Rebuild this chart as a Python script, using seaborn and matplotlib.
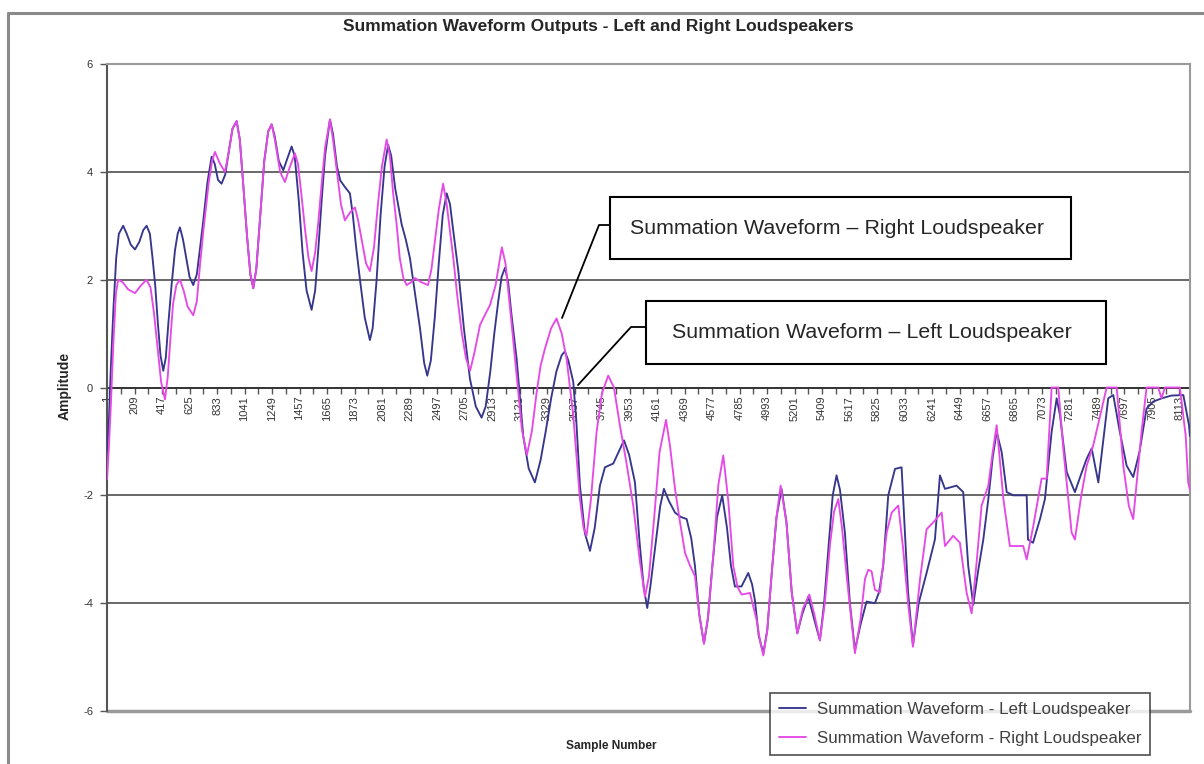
import numpy as np
import pandas as pd
import seaborn as sns
import matplotlib.pyplot as plt
from matplotlib.patches import Rectangle
from matplotlib.lines import Line2D

# values (sample number, amplitude)
left_x = [1, 15, 30, 50, 70, 90, 123, 150, 180, 212, 245, 275, 300, 325, 345, 365, 385, 405, 426, 445,
          465, 489, 515, 535, 552, 575, 600, 625, 653, 680, 705, 729, 760, 792, 815, 840, 867, 895, 920, 950,
          981, 1005, 1030, 1060, 1085, 1107, 1130, 1160, 1190, 1220, 1246, 1270, 1300, 1334, 1365, 1397, 1420, 1450, 1480, 1510,
          1548, 1575, 1600, 1625, 1650, 1687, 1710, 1740, 1765, 1800, 1838, 1860, 1885, 1914, 1950, 1989, 2010, 2040, 2070, 2100,
          2127, 2150, 2180, 2229, 2260, 2292, 2330, 2368, 2400, 2423, 2450, 2480, 2510, 2540, 2570, 2595, 2620, 2658, 2700, 2746,
          2790, 2834, 2865, 2900, 2930, 2960, 2985, 3011, 3035, 3060, 3099, 3149, 3190, 3237, 3280, 3320, 3360, 3400, 3440, 3464,
          3490, 3527, 3550, 3578, 3615, 3654, 3690, 3729, 3767, 3830, 3870, 3911, 3950, 3994, 4030, 4060, 4087, 4110, 4150, 4185,
          4213, 4250, 4297, 4340, 4385, 4420, 4448, 4480, 4516, 4545, 4580, 4615, 4654, 4690, 4720, 4750, 4800, 4851, 4880, 4901,
          4930, 4965, 4995, 5030, 5065, 5103, 5140, 5180, 5222, 5260, 5305, 5350, 5393, 5425, 5460, 5490, 5519, 5545, 5582, 5620,
          5658, 5700, 5746, 5809, 5840, 5872, 5910, 5961, 6011, 6036, 6060, 6097, 6140, 6200, 6263, 6301, 6339, 6427, 6477, 6515,
          6553, 6590, 6629, 6667, 6700, 6730, 6768, 6806, 6856, 6957, 6967, 7005, 7058, 7095, 7146, 7184, 7209, 7260, 7322, 7370,
          7411, 7449, 7499, 7540, 7574, 7612, 7660, 7713, 7763, 7810, 7864, 7915, 7980, 8050, 8142, 8185, 8192]
left_y = [-1.2, -0.6, 0.4, 1.5, 2.4, 2.85, 3.0, 2.85, 2.65, 2.56, 2.7, 2.92, 3.0, 2.85, 2.4, 1.9, 1.2, 0.6, 0.31, 0.55,
          1.2, 1.9, 2.55, 2.85, 2.97, 2.75, 2.4, 2.05, 1.9, 2.1, 2.6, 3.1, 3.8, 4.28, 4.15, 3.85, 3.78, 3.95, 4.35, 4.8,
          4.94, 4.6, 3.8, 2.8, 2.1, 1.84, 2.2, 3.2, 4.2, 4.75, 4.88, 4.65, 4.2, 4.03, 4.25, 4.47, 4.3, 3.5, 2.5, 1.8,
          1.44, 1.8, 2.6, 3.5, 4.3, 4.97, 4.7, 4.1, 3.84, 3.72, 3.6, 3.2, 2.6, 2.0, 1.3, 0.88, 1.1, 2.0, 3.2, 4.1,
          4.5, 4.3, 3.7, 3.03, 2.75, 2.4, 1.75, 1.1, 0.45, 0.22, 0.5, 1.3, 2.3, 3.2, 3.6, 3.4, 2.9, 2.16, 1.1, 0.16,
          -0.35, -0.56, -0.35, 0.3, 1.0, 1.6, 2.05, 2.22, 1.95, 1.35, 0.53, -0.9, -1.5, -1.76, -1.35, -0.8, -0.2, 0.3, 0.6, 0.67,
          0.5, 0.11, -0.6, -1.82, -2.7, -3.03, -2.6, -1.82, -1.48, -1.41, -1.2, -0.98, -1.25, -1.76, -2.9, -3.7, -4.09, -3.7, -2.9, -2.2,
          -1.88, -2.1, -2.32, -2.4, -2.44, -2.8, -3.31, -4.2, -4.75, -4.3, -3.3, -2.4, -2.0, -2.6, -3.3, -3.69, -3.69, -3.44, -3.65, -3.94,
          -4.6, -4.93, -4.5, -3.4, -2.4, -1.88, -2.5, -3.8, -4.56, -4.2, -3.88, -4.3, -4.69, -4.0, -2.9, -2.0, -1.63, -1.9, -2.69, -4.0,
          -4.87, -4.4, -3.97, -4.0, -3.8, -3.31, -2.0, -1.51, -1.48, -2.69, -3.8, -4.78, -4.0, -3.44, -2.82, -1.63, -1.88, -1.82, -1.94, -3.31,
          -4.03, -3.4, -2.82, -2.07, -1.3, -0.82, -1.2, -1.94, -2.0, -2.0, -2.82, -2.88, -2.44, -2.07, -0.82, -0.2, -0.51, -1.57, -1.94, -1.6,
          -1.32, -1.13, -1.76, -0.9, -0.2, -0.14, -0.8, -1.45, -1.66, -1.2, -0.39, -0.26, -0.2, -0.15, -0.14, -0.7, -0.9]

right_x = [1, 15, 30, 50, 68, 85, 120, 160, 212, 260, 300, 330, 355, 380, 410, 439, 460, 480, 500, 525,
           552, 580, 610, 653, 680, 705, 729, 770, 795, 817, 855, 893, 920, 950, 981, 1005, 1030, 1060, 1085, 1107,
           1130, 1160, 1190, 1220, 1246, 1270, 1310, 1346, 1385, 1422, 1445, 1470, 1500, 1525, 1548, 1575, 1600, 1625, 1650, 1687,
           1710, 1740, 1770, 1800, 1840, 1876, 1900, 1930, 1960, 1989, 2020, 2050, 2080, 2116, 2140, 2165, 2191, 2215, 2242, 2267,
           2300, 2330, 2380, 2429, 2455, 2480, 2510, 2543, 2570, 2600, 2620, 2650, 2683, 2715, 2747, 2780, 2822, 2860, 2898, 2940,
           2987, 3015, 3040, 3062, 3100, 3140, 3177, 3215, 3250, 3280, 3313, 3360, 3401, 3440, 3477, 3527, 3578, 3605, 3628, 3660,
           3704, 3745, 3792, 3835, 3880, 3930, 3981, 4030, 4070, 4100, 4140, 4180, 4229, 4260, 4297, 4335, 4373, 4410, 4448, 4480,
           4516, 4550, 4590, 4625, 4662, 4700, 4738, 4770, 4801, 4864, 4914, 4940, 4965, 4995, 5030, 5065, 5096, 5140, 5180, 5222,
           5265, 5313, 5350, 5393, 5430, 5470, 5500, 5532, 5560, 5600, 5658, 5700, 5734, 5759, 5784, 5809, 5847, 5898, 5936, 5986,
           6023, 6060, 6097, 6150, 6200, 6251, 6314, 6339, 6401, 6452, 6503, 6541, 6580, 6616, 6667, 6700, 6730, 6781, 6830, 6931,
           6957, 7007, 7070, 7108, 7146, 7196, 7234, 7297, 7322, 7370, 7411, 7461, 7562, 7638, 7688, 7730, 7763, 7800, 7826, 7864,
           7952, 7977, 8003, 8116, 8160, 8179, 8192]
right_y = [-1.7, -1.1, -0.3, 0.9, 1.75, 2.0, 1.95, 1.82, 1.75, 1.9, 2.0, 1.85, 1.4, 0.8, 0.1, -0.22, 0.2, 0.9, 1.55, 1.9,
           2.0, 1.8, 1.5, 1.34, 1.6, 2.3, 2.9, 3.8, 4.2, 4.37, 4.15, 4.0, 4.35, 4.8, 4.94, 4.6, 3.8, 2.8, 2.1, 1.84,
           2.2, 3.2, 4.2, 4.75, 4.88, 4.6, 4.0, 3.81, 4.1, 4.34, 4.15, 3.6, 2.9, 2.4, 2.16, 2.5, 3.1, 3.8, 4.45, 4.97,
           4.6, 4.0, 3.4, 3.1, 3.25, 3.34, 3.1, 2.7, 2.3, 2.16, 2.6, 3.4, 4.1, 4.6, 4.3, 3.6, 3.03, 2.4, 2.03, 1.9,
           1.95, 2.03, 1.95, 1.9, 2.2, 2.7, 3.3, 3.78, 3.4, 2.8, 2.4, 1.7, 1.03, 0.55, 0.31, 0.65, 1.16, 1.35, 1.53, 1.9,
           2.6, 2.3, 1.7, 1.16, 0.2, -0.8, -1.25, -0.8, -0.1, 0.4, 0.72, 1.1, 1.28, 1.0, 0.53, -0.51, -2.07, -2.6, -2.75, -2.1,
           -0.82, -0.1, 0.22, 0.0, -0.7, -1.4, -2.19, -3.2, -3.88, -3.5, -2.4, -1.2, -0.6, -1.1, -1.88, -2.5, -3.07, -3.3, -3.5, -4.2,
           -4.75, -4.2, -3.0, -1.8, -1.26, -2.1, -3.31, -3.7, -3.84, -3.81, -4.31, -4.7, -4.97, -4.5, -3.4, -2.4, -1.82, -2.5, -3.8, -4.56,
           -4.1, -3.84, -4.2, -4.69, -4.0, -2.9, -2.3, -2.07, -2.6, -3.6, -4.93, -4.3, -3.55, -3.38, -3.41, -3.75, -3.8, -2.69, -2.32, -2.19,
           -3.0, -4.0, -4.81, -3.56, -2.63, -2.5, -2.32, -2.94, -2.75, -2.88, -3.81, -4.19, -3.2, -2.19, -1.82, -1.2, -0.7, -2.07, -2.94, -2.94,
           -3.19, -2.57, -1.69, -1.69, 0.0, 0.0, -1.13, -2.69, -2.82, -2.0, -1.45, -1.07, 0.0, 0.0, -1.45, -2.2, -2.44, -1.5, -0.82, 0.0,
           0.0, -0.2, 0.0, 0.0, -0.9, -1.76, -1.9]

series_names = ["Summation Waveform - Left Loudspeaker", "Summation Waveform - Right Loudspeaker"]
tick_samples = list(range(1, 8114, 208))
tick_labels = [str(t) for t in tick_samples]
y_ticks = [-6, -4, -2, 0, 2, 4, 6]

navy = "#36368c"
magenta = "#e64ae6"

sns.set_style("white")
plt.rcParams['font.family'] = ['Liberation Sans', 'DejaVu Sans']

W, H = 1204, 764
fig = plt.figure(figsize=(W / 100, H / 100), dpi=100)


def fx(px):
    return px / W


def fy(py):
    return 1 - py / H


# outer chart border (top and left visible)
fig.add_artist(Line2D([fx(8), fx(1204)], [fy(13), fy(13)], color="#8a8a8a", lw=2.2))
fig.add_artist(Line2D([fx(8), fx(8)], [fy(13), fy(770)], color="#8a8a8a", lw=2.2))

ax = fig.add_axes([fx(107), fy(711), fx(1190) - fx(107), fy(64) - fy(711)])

df = pd.concat([
    pd.DataFrame({"Sample": left_x, "Amplitude": left_y, "Series": series_names[0]}),
    pd.DataFrame({"Sample": right_x, "Amplitude": right_y, "Series": series_names[1]}),
])

for g in [2, 4, -2, -4]:
    ax.axhline(g, color="#5c5c5c", lw=1.3, zorder=1)

sns.lineplot(data=df, x="Sample", y="Amplitude", hue="Series",
             palette={series_names[0]: navy, series_names[1]: magenta},
             sort=False, estimator=None, linewidth=1.35, ax=ax, zorder=3)

ax.set_xlim(0.5, 8192.5)
ax.set_ylim(-6, 6)
ax.set_xlabel("")
ax.set_ylabel("")

# category axis crossing at zero
ax.spines['bottom'].set_position(('data', 0))
ax.spines['bottom'].set_color("#222222")
ax.spines['bottom'].set_linewidth(1.3)
ax.spines['bottom'].set_zorder(2)
ax.spines['left'].set_color("#555555")
ax.spines['left'].set_linewidth(1.5)
ax.spines['top'].set_color("#9a9a9a")
ax.spines['top'].set_linewidth(1.5)
ax.spines['right'].set_color("#9a9a9a")
ax.spines['right'].set_linewidth(1.5)
ax.axhline(-6, color="#9a9a9a", lw=2.5, zorder=1, clip_on=False)

ax.set_xticks(tick_samples)
ax.set_xticklabels(tick_labels, rotation=90, fontsize=8, color="#333333")
ax.set_xticks(list(range(105, 8192, 208)), minor=True)
ax.tick_params(axis='x', which='both', direction='out', length=4, width=1, color="#555555", pad=2, bottom=True)
ax.set_yticks(y_ticks)
ax.set_yticklabels([str(v) for v in y_ticks], fontsize=8, color="#333333")
ax.tick_params(axis='y', direction='out', length=5, width=1, color="#555555", pad=5, left=True)

fig.text(fx(598), fy(27), "Summation Waveform Outputs - Left and Right Loudspeakers",
         ha='center', va='center', fontsize=12.5, fontweight='bold')
fig.text(fx(65), fy(386), "Amplitude", rotation=90, ha='center', va='center',
         fontsize=10, fontweight='bold')
fig.text(fx(611), fy(746), "Sample Number", ha='center', va='center',
         fontsize=8.6, fontweight='bold')

# legend
handles, labels = ax.get_legend_handles_labels()
if ax.get_legend() is not None:
    ax.get_legend().remove()
leg = fig.legend(handles, labels, loc='upper left', bbox_to_anchor=(fx(770), fy(693)),
                 fontsize=12.2, frameon=True, fancybox=False, edgecolor="#222222",
                 handlelength=1.6, handletextpad=0.6, borderpad=0.55, labelspacing=0.8,
                 borderaxespad=0)
leg.get_frame().set_linewidth(1.2)
for t in leg.get_texts():
    t.set_color("#404040")

# callout boxes
boxes = [
    ((610, 197, 1071, 259), "Summation Waveform \u2013 Right Loudspeaker", [(610, 225), (599, 225), (562, 318)]),
    ((646, 301, 1106, 364), "Summation Waveform \u2013 Left Loudspeaker", [(646, 327), (631, 327), (578, 385)]),
]
for (x0, y0, x1, y1), text, path in boxes:
    fig.add_artist(Rectangle((fx(x0), fy(y1)), fx(x1) - fx(x0), fy(y0) - fy(y1),
                             transform=fig.transFigure, facecolor="white", edgecolor="black", lw=1.5, zorder=5))
    fig.text(fx((x0 + x1) / 2 - 4), fy((y0 + y1) / 2), text, ha='center', va='center',
             fontsize=15.4, zorder=6)
    fig.add_artist(Line2D([fx(p[0]) for p in path], [fy(p[1]) for p in path],
                          color="black", lw=1.3, zorder=5))

fig.savefig("out.png", dpi=100)
